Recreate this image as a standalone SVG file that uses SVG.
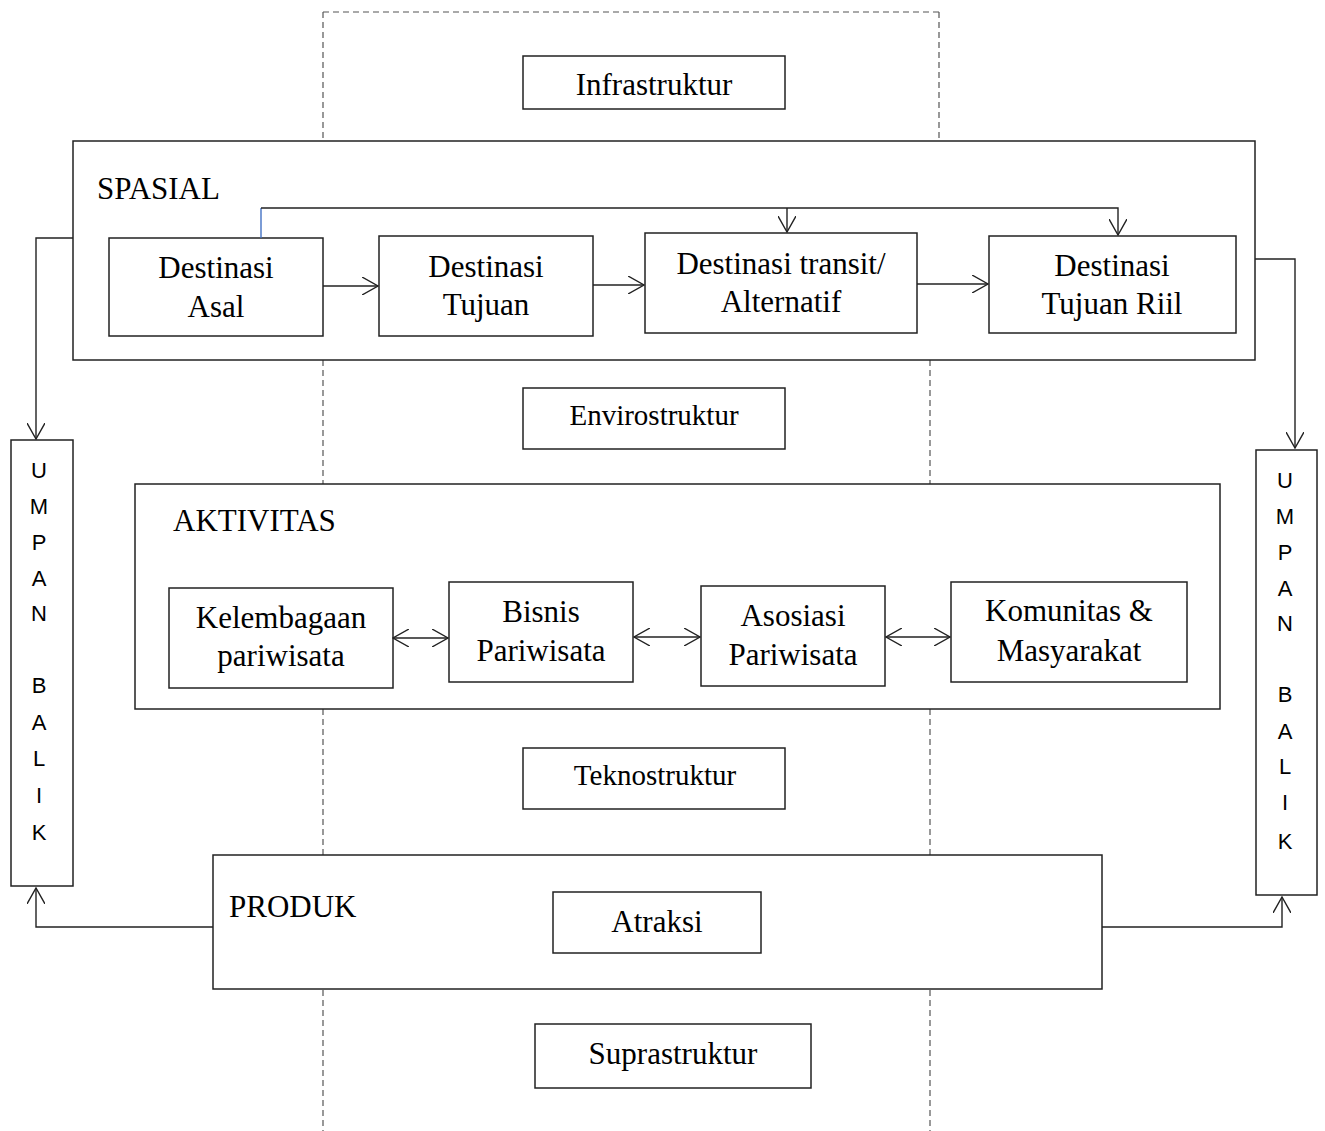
<svg xmlns="http://www.w3.org/2000/svg" width="1325" height="1131" viewBox="0 0 1325 1131">
<defs>
<style>
.box{fill:#fff;stroke:#222;stroke-width:1.5}
.big{fill:none;stroke:#222;stroke-width:1.5}
.t{font-family:"Liberation Serif","Times New Roman",serif;font-size:31px;fill:#000;text-anchor:middle}
.tl{font-family:"Liberation Serif","Times New Roman",serif;font-size:31px;fill:#000}
.ts{font-family:"Liberation Serif","Times New Roman",serif;font-size:29px;fill:#000;text-anchor:middle}
.u{font-family:"Liberation Sans","Open Sans",Arial,sans-serif;font-size:22px;fill:#000;text-anchor:middle}
.dash{fill:none;stroke:#555;stroke-width:1.2;stroke-dasharray:6,4}
.c{fill:none;stroke:#222;stroke-width:1.4}
</style>
<marker id="ah" viewBox="0 0 17 18" refX="16" refY="9" markerWidth="17" markerHeight="18" markerUnits="userSpaceOnUse" orient="auto-start-reverse">
<path d="M0,0 L16,9 L0,18" fill="none" stroke="#222" stroke-width="1.4"/>
</marker>
</defs>
<rect width="1325" height="1131" fill="#fff"/>

<g id="guides">
<path class="dash" d="M323,12 H939"/>
<path class="dash" d="M323,12 V141 M323,360 V484 M323,709 V855 M323,990 V1131"/>
<path class="dash" d="M939,12 V141 M930,360 V484 M930,709 V855 M930,990 V1131"/>
</g>

<g id="spasial">
<rect class="big" x="73" y="141" width="1182" height="219"/>
<text class="tl" x="97" y="199">SPASIAL</text>
</g>
<g id="aktivitas">
<rect class="big" x="135" y="484" width="1085" height="225"/>
<text class="tl" x="173" y="531">AKTIVITAS</text>
</g>
<g id="produk">
<rect class="big" x="213" y="855" width="889" height="134"/>
<text class="tl" x="229" y="917">PRODUK</text>
</g>

<g id="infrastruktur"><rect class="box" x="523" y="56" width="262" height="53"/><text class="t" x="654" y="95">Infrastruktur</text></g>
<g id="envirostruktur"><rect class="box" x="523" y="388" width="262" height="61"/><text class="ts" x="654" y="425">Envirostruktur</text></g>
<g id="teknostruktur"><rect class="box" x="523" y="748" width="262" height="61"/><text class="ts" x="655" y="785">Teknostruktur</text></g>
<g id="suprastruktur"><rect class="box" x="535" y="1024" width="276" height="64"/><text class="t" x="673" y="1064">Suprastruktur</text></g>
<g id="atraksi"><rect class="box" x="553" y="892" width="208" height="61"/><text class="t" x="657" y="932">Atraksi</text></g>

<g id="destinasi-asal"><rect class="box" x="109" y="238" width="214" height="98"/><text class="t" x="216" y="278">Destinasi</text><text class="t" x="216" y="317">Asal</text></g>
<g id="destinasi-tujuan"><rect class="box" x="379" y="236" width="214" height="100"/><text class="t" x="486" y="277">Destinasi</text><text class="t" x="486" y="315">Tujuan</text></g>
<g id="destinasi-transit"><rect class="box" x="645" y="233" width="272" height="100"/><text class="t" x="781" y="274">Destinasi transit/</text><text class="t" x="781" y="312">Alternatif</text></g>
<g id="destinasi-riil"><rect class="box" x="989" y="236" width="247" height="97"/><text class="t" x="1112" y="276">Destinasi</text><text class="t" x="1112" y="314">Tujuan Riil</text></g>

<g id="kelembagaan"><rect class="box" x="169" y="588" width="224" height="100"/><text class="t" x="281" y="628">Kelembagaan</text><text class="t" x="281" y="666">pariwisata</text></g>
<g id="bisnis"><rect class="box" x="449" y="582" width="184" height="100"/><text class="t" x="541" y="622">Bisnis</text><text class="t" x="541" y="661">Pariwisata</text></g>
<g id="asosiasi"><rect class="box" x="701" y="586" width="184" height="100"/><text class="t" x="793" y="626">Asosiasi</text><text class="t" x="793" y="665">Pariwisata</text></g>
<g id="komunitas"><rect class="box" x="951" y="582" width="236" height="100"/><text class="t" x="1069" y="621">Komunitas &amp;</text><text class="t" x="1069" y="661">Masyarakat</text></g>

<g id="umpan-kiri"><rect class="box" x="11" y="440" width="62" height="446"/>
<text class="u" x="39" y="478">U</text><text class="u" x="39" y="514">M</text><text class="u" x="39" y="550">P</text><text class="u" x="39" y="586">A</text><text class="u" x="39" y="621">N</text>
<text class="u" x="39" y="693">B</text><text class="u" x="39" y="730">A</text><text class="u" x="39" y="766">L</text><text class="u" x="39" y="803">I</text><text class="u" x="39" y="840">K</text>
</g>
<g id="umpan-kanan"><rect class="box" x="1256" y="450" width="61" height="445"/>
<text class="u" x="1285" y="488">U</text><text class="u" x="1285" y="524">M</text><text class="u" x="1285" y="560">P</text><text class="u" x="1285" y="596">A</text><text class="u" x="1285" y="631">N</text>
<text class="u" x="1285" y="702">B</text><text class="u" x="1285" y="739">A</text><text class="u" x="1285" y="774">L</text><text class="u" x="1285" y="810">I</text><text class="u" x="1285" y="849">K</text>
</g>

<g id="connectors">
<path d="M261,238 V208" fill="none" stroke="#4472c4" stroke-width="1.4"/>
<path class="c" d="M261,208 H1118 V235" marker-end="url(#ah)"/>
<path class="c" d="M787,208 V232" marker-end="url(#ah)"/>
<path class="c" d="M323,286 H378" marker-end="url(#ah)"/>
<path class="c" d="M593,285 H644" marker-end="url(#ah)"/>
<path class="c" d="M917,284 H988" marker-end="url(#ah)"/>
<path class="c" d="M393,638 H448" marker-start="url(#ah)" marker-end="url(#ah)"/>
<path class="c" d="M634,637 H700" marker-start="url(#ah)" marker-end="url(#ah)"/>
<path class="c" d="M886,637 H950" marker-start="url(#ah)" marker-end="url(#ah)"/>
<path class="c" d="M73,238 H36 V439" marker-end="url(#ah)"/>
<path class="c" d="M1255,259 H1295 V448" marker-end="url(#ah)"/>
<path class="c" d="M213,927 H36 V888" marker-end="url(#ah)"/>
<path class="c" d="M1102,927 H1282 V897" marker-end="url(#ah)"/>
</g>
</svg>
